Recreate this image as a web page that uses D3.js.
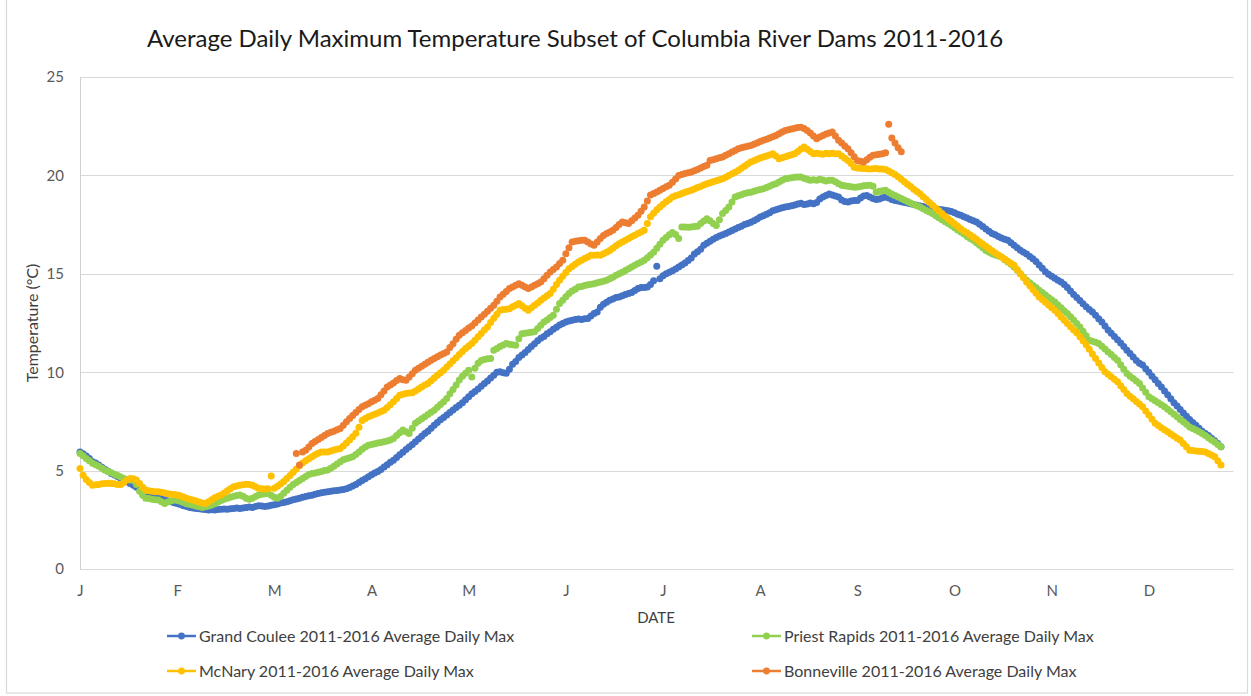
<!DOCTYPE html>
<html>
<head>
<meta charset="utf-8">
<script src="https://cdn.jsdelivr.net/npm/d3@7"></script>
<style>
  html, body { margin: 0; padding: 0; background: #fff; }
  svg { display: block; font-family: Lato, "Open Sans", sans-serif; }
</style>
</head>
<body>
<svg id="chart" width="1251" height="696"></svg>
<script>
// x axis: one category per day, a month letter every 31 categories
var monthLabels = ["J", "F", "M", "A", "M", "J", "J", "A", "S", "O", "N", "D"];
var labelEvery = 31;
var yTicks = [0, 5, 10, 15, 20, 25];

// daily values (deg C), day 0 = first category
var grandCoulee = [
  5.95, 5.85, 5.74, 5.62, 5.45, 5.38, 5.28, 5.17, 5.06, 4.97,
  4.85, 4.78, 4.7, 4.6, 4.5, 4.43, 4.35, 4.25, 4.15, 4.05,
  3.95, 3.9, 3.82, 3.75, 3.68, 3.62, 3.58, 3.52, 3.47, 3.42,
  3.37, 3.33, 3.28, 3.22, 3.17, 3.13, 3.1, 3.08, 3.06, 3.04,
  3.02, 3.0, 3.01, 3.0, 3.02, 3.03, 3.05, 3.03, 3.06, 3.08,
  3.1, 3.07, 3.1, 3.12, 3.15, 3.13, 3.17, 3.22, 3.2, 3.18,
  3.2, 3.24, 3.27, 3.3, 3.35, 3.38, 3.42, 3.47, 3.52, 3.56,
  3.6, 3.64, 3.68, 3.72, 3.75, 3.8, 3.84, 3.87, 3.9, 3.93,
  3.95, 3.97, 3.99, 4.01, 4.04, 4.08, 4.14, 4.22, 4.3, 4.4,
  4.5, 4.59, 4.69, 4.79, 4.88, 4.95, 5.06, 5.18, 5.3, 5.42,
  5.53, 5.66, 5.8, 5.93, 6.07, 6.2, 6.33, 6.47, 6.6, 6.75,
  6.88, 7.0, 7.15, 7.3, 7.45, 7.58, 7.7, 7.82, 7.95, 8.08,
  8.2, 8.32, 8.45, 8.6, 8.75, 8.9, 9.02, 9.15, 9.28, 9.42,
  9.55, 9.7, 9.85, 10.0, 10.02, 9.97, 9.95, 10.15, 10.4, 10.55,
  10.75, 10.88, 11.0, 11.15, 11.3, 11.45, 11.6, 11.72, 11.82, 11.95,
  12.05, 12.18, 12.28, 12.4, 12.48, 12.55, 12.6, 12.64, 12.68, 12.7,
  12.68, 12.72, 12.73, 12.85, 12.98, 13.06, 13.3, 13.45, 13.55, 13.65,
  13.72, 13.8, 13.82, 13.88, 13.95, 14.0, 14.05, 14.15, 14.25, 14.3,
  14.3, 14.33, 14.45, 14.65, 15.38, 14.75, 14.9, 15.0, 15.08, 15.15,
  15.25, 15.35, 15.45, 15.55, 15.68, 15.8, 16.0, 16.12, 16.25, 16.45,
  16.55, 16.65, 16.75, 16.85, 16.92, 16.98, 17.05, 17.12, 17.2, 17.28,
  17.35, 17.42, 17.5, 17.55, 17.62, 17.7, 17.78, 17.88, 17.95, 18.02,
  18.1, 18.2, 18.25, 18.3, 18.35, 18.4, 18.42, 18.46, 18.5, 18.55,
  18.58, 18.52, 18.55, 18.6, 18.56, 18.62, 18.8, 18.9, 18.98, 19.05,
  19.0, 18.95, 18.9, 18.75, 18.68, 18.65, 18.7, 18.72, 18.73, 18.85,
  18.95, 18.98, 18.9, 18.82, 18.78, 18.8, 18.86, 18.9, 18.85, 18.78,
  18.72, 18.7, 18.66, 18.62, 18.6, 18.56, 18.52, 18.48, 18.45, 18.42,
  18.38, 18.35, 18.32, 18.3, 18.27, 18.25, 18.23, 18.2, 18.16, 18.1,
  18.03, 17.97, 17.9, 17.83, 17.76, 17.69, 17.63, 17.52, 17.4, 17.28,
  17.16, 17.05, 16.98, 16.9, 16.82, 16.75, 16.7, 16.58, 16.45, 16.32,
  16.2, 16.1, 16.0, 15.88, 15.77, 15.62, 15.45, 15.28, 15.1, 14.98,
  14.88, 14.78, 14.67, 14.58, 14.45, 14.3, 14.12, 13.95, 13.8, 13.64,
  13.48, 13.32, 13.18, 13.06, 12.9, 12.72, 12.55, 12.35, 12.15, 11.98,
  11.82, 11.65, 11.48, 11.3, 11.12, 10.95, 10.77, 10.6, 10.45, 10.36,
  10.18, 10.0, 9.8, 9.62, 9.43, 9.25, 9.05, 8.85, 8.65, 8.45,
  8.28, 8.1, 7.93, 7.76, 7.6, 7.45, 7.3, 7.15, 7.0, 6.88,
  6.78, 6.65, 6.52, 6.38, 6.21
];

var priestRapids = [
  5.87, 5.75, 5.62, 5.5, 5.37, 5.3, 5.22, 5.12, 5.02, 4.95,
  4.89, 4.82, 4.75, 4.68, 4.6, 4.55, 4.52, 4.5, 4.3, 3.95,
  3.75, 3.6, 3.58, 3.55, 3.52, 3.5, 3.42, 3.33, 3.4, 3.45,
  3.5, 3.48, 3.44, 3.38, 3.32, 3.28, 3.25, 3.2, 3.16, 3.13,
  3.16, 3.2, 3.25, 3.32, 3.4, 3.48, 3.54, 3.59, 3.64, 3.7,
  3.74, 3.76, 3.7, 3.6, 3.54, 3.6, 3.68, 3.76, 3.8, 3.82,
  3.84, 3.75, 3.65, 3.59, 3.7, 3.85, 4.0, 4.15, 4.3, 4.4,
  4.5, 4.6, 4.7, 4.8, 4.85, 4.88, 4.92, 4.96, 5.0, 5.03,
  5.12, 5.22, 5.33, 5.45, 5.55, 5.6, 5.65, 5.7, 5.82, 5.95,
  6.08, 6.2, 6.29, 6.32, 6.36, 6.4, 6.43, 6.46, 6.5, 6.56,
  6.63, 6.78, 6.92, 7.06, 6.98, 6.89, 7.15, 7.4, 7.52, 7.63,
  7.74, 7.85, 7.96, 8.07, 8.22, 8.36, 8.5, 8.66, 8.9, 9.12,
  9.35, 9.6, 9.8, 9.95, 10.1, 9.76, 10.2, 10.45, 10.6, 10.65,
  10.68, 10.7, 11.12, 11.2, 11.3, 11.38, 11.46, 11.42, 11.4, 11.37,
  11.7, 11.96, 11.98, 12.0, 12.03, 12.05, 12.22, 12.38, 12.55, 12.65,
  12.78, 12.89, 13.2, 13.49, 13.66, 13.83, 14.0, 14.12, 14.22, 14.33,
  14.36, 14.4, 14.44, 14.47, 14.5, 14.54, 14.58, 14.62, 14.67, 14.75,
  14.83, 14.92, 15.0, 15.08, 15.17, 15.26, 15.35, 15.43, 15.52, 15.6,
  15.69, 15.82, 15.96, 16.1, 16.3, 16.5, 16.7, 16.85, 16.98, 17.1,
  17.0, 16.79, 17.38, 17.38, 17.36, 17.38, 17.4, 17.42, 17.55, 17.68,
  17.8, 17.7, 17.55, 17.46, 17.75, 18.06, 18.22, 18.39, 18.65, 18.9,
  18.96, 19.02, 19.08, 19.12, 19.15, 19.2, 19.24, 19.28, 19.32, 19.38,
  19.45, 19.52, 19.58, 19.66, 19.75, 19.83, 19.86, 19.88, 19.9, 19.92,
  19.92, 19.85, 19.8, 19.75, 19.78, 19.75, 19.8, 19.76, 19.72, 19.75,
  19.75, 19.68, 19.58, 19.5, 19.48, 19.45, 19.42, 19.4, 19.41, 19.44,
  19.47, 19.49, 19.5, 19.45, 19.15, 19.2, 19.22, 19.24, 19.15, 19.05,
  18.98, 18.9, 18.82, 18.75, 18.68, 18.6, 18.52, 18.46, 18.39, 18.3,
  18.22, 18.14, 18.06, 17.95, 17.85, 17.75, 17.65, 17.55, 17.45, 17.34,
  17.22, 17.12, 17.02, 16.9, 16.8, 16.7, 16.58, 16.45, 16.32, 16.19,
  16.1, 16.02, 15.95, 15.9, 15.85, 15.72, 15.6, 15.48, 15.35, 15.18,
  15.0, 14.84, 14.67, 14.55, 14.42, 14.3, 14.16, 14.05, 13.92, 13.8,
  13.68, 13.57, 13.42, 13.28, 13.12, 12.98, 12.82, 12.65, 12.48, 12.3,
  12.08, 11.85, 11.62, 11.57, 11.52, 11.46, 11.32, 11.18, 11.03, 10.9,
  10.75, 10.61, 10.38, 10.15, 9.93, 9.8, 9.68, 9.55, 9.43, 9.2,
  8.98, 8.75, 8.65, 8.55, 8.45, 8.35, 8.24, 8.12, 7.99, 7.86,
  7.73, 7.6, 7.48, 7.35, 7.22, 7.14, 7.06, 6.98, 6.89, 6.78,
  6.67, 6.56, 6.45, 6.33, 6.21
];

var mcNary = [
  5.11, 4.77, 4.55, 4.4, 4.26, 4.28, 4.3, 4.33, 4.35, 4.36,
  4.35, 4.33, 4.3, 4.3, 4.4, 4.52, 4.6, 4.58, 4.52, 4.35,
  4.15, 4.01, 3.98, 3.95, 3.93, 3.92, 3.9, 3.86, 3.83, 3.8,
  3.78, 3.76, 3.72, 3.66, 3.6, 3.55, 3.5, 3.45, 3.4, 3.36,
  3.33, 3.42, 3.52, 3.62, 3.7, 3.76, 3.86, 3.98, 4.08, 4.18,
  4.22, 4.26, 4.28, 4.31, 4.3, 4.25, 4.18, 4.1, 4.08, 4.06,
  4.08, 4.72, 4.1, 4.2, 4.32, 4.45, 4.6, 4.75, 4.92, 5.08,
  5.25, 5.38, 5.5, 5.6, 5.7, 5.8, 5.88, 5.95, 5.95, 5.95,
  6.0, 6.05, 6.08, 6.12, 6.25, 6.4, 6.55, 6.72, 6.9, 7.2,
  7.55, 7.65, 7.73, 7.8, 7.86, 7.93, 8.0, 8.07, 8.2, 8.35,
  8.5, 8.66, 8.83, 8.88, 8.92, 8.94, 8.95, 9.05, 9.15, 9.25,
  9.35, 9.43, 9.56, 9.7, 9.84, 9.97, 10.1, 10.26, 10.42, 10.58,
  10.74, 10.9, 11.05, 11.2, 11.33, 11.46, 11.62, 11.8, 11.97, 12.14,
  12.3, 12.52, 12.74, 12.95, 13.15, 13.18, 13.2, 13.23, 13.32, 13.4,
  13.49, 13.38, 13.25, 13.15, 13.28, 13.4, 13.52, 13.65, 13.77, 13.89,
  14.0, 14.22, 14.45, 14.67, 14.88, 15.07, 15.26, 15.37, 15.48, 15.6,
  15.69, 15.78, 15.86, 15.94, 15.94, 15.95, 15.94, 16.02, 16.1, 16.19,
  16.3, 16.42, 16.53, 16.62, 16.7, 16.79, 16.88, 16.96, 17.05, 17.13,
  17.21, 17.55, 17.9, 18.08, 18.25, 18.4, 18.53, 18.66, 18.78, 18.9,
  18.96, 19.02, 19.08, 19.14, 19.2, 19.24, 19.31, 19.38, 19.44, 19.51,
  19.58, 19.63, 19.68, 19.73, 19.78, 19.83, 19.91, 20.0, 20.08, 20.16,
  20.25, 20.36, 20.47, 20.58, 20.68, 20.75, 20.82, 20.88, 20.93, 20.98,
  21.04, 21.1, 20.98, 20.85, 20.9, 20.95, 21.0, 21.05, 21.1, 21.22,
  21.34, 21.44, 21.33, 21.22, 21.1, 21.12, 21.1, 21.08, 21.12, 21.1,
  21.12, 21.1, 21.1, 20.98, 20.87, 20.76, 20.6, 20.42, 20.38, 20.36,
  20.35, 20.34, 20.33, 20.34, 20.35, 20.33, 20.32, 20.3, 20.22, 20.14,
  20.05, 19.93, 19.8, 19.68, 19.55, 19.43, 19.3, 19.18, 19.07, 18.92,
  18.77, 18.62, 18.48, 18.34, 18.2, 18.07, 17.93, 17.8, 17.67, 17.54,
  17.42, 17.29, 17.18, 17.08, 16.97, 16.87, 16.75, 16.63, 16.52, 16.4,
  16.28, 16.17, 16.06, 15.95, 15.85, 15.75, 15.64, 15.54, 15.43, 15.22,
  15.0, 14.8, 14.58, 14.39, 14.2, 14.01, 13.82, 13.69, 13.55, 13.42,
  13.28, 13.15, 12.98, 12.81, 12.64, 12.47, 12.31, 12.15, 12.0, 11.8,
  11.6, 11.4, 11.17, 10.93, 10.7, 10.47, 10.24, 10.02, 9.9, 9.77,
  9.64, 9.51, 9.31, 9.12, 8.92, 8.78, 8.65, 8.51, 8.38, 8.24,
  8.03, 7.82, 7.61, 7.4, 7.29, 7.18, 7.08, 6.97, 6.86, 6.76,
  6.65, 6.55, 6.38, 6.21, 6.04, 6.02, 6.0, 5.98, 5.97, 5.95,
  5.87, 5.79, 5.7, 5.5, 5.28
];

// Bonneville has no readings before day 69; a jump at day 258
var bonnevilleStart = 69;
var bonneville = [
  5.87, 5.28, 5.95, 6.04, 6.2, 6.38, 6.48, 6.58, 6.68, 6.78, 6.89,
  6.95, 7.0, 7.07, 7.14, 7.3, 7.48, 7.65, 7.8, 7.95, 8.1,
  8.24, 8.32, 8.4, 8.5, 8.58, 8.66, 8.85, 9.05, 9.25, 9.35,
  9.45, 9.58, 9.68, 9.62, 9.59, 9.75, 9.92, 10.1, 10.2, 10.3,
  10.4, 10.5, 10.61, 10.7, 10.78, 10.87, 10.95, 11.03, 11.25, 11.45,
  11.68, 11.88, 12.0, 12.12, 12.24, 12.35, 12.5, 12.65, 12.81, 12.95,
  13.1, 13.25, 13.4, 13.6, 13.82, 13.96, 14.1, 14.25, 14.33, 14.42,
  14.5, 14.42, 14.33, 14.25, 14.33, 14.42, 14.5, 14.58, 14.75, 14.92,
  15.09, 15.22, 15.35, 15.52, 15.69, 16.02, 16.32, 16.62, 16.65, 16.68,
  16.7, 16.7, 16.62, 16.52, 16.45, 16.62, 16.8, 16.95, 17.05, 17.13,
  17.21, 17.35, 17.5, 17.63, 17.6, 17.55, 17.7, 17.84, 17.97, 18.18,
  18.39, 18.7, 19.0, 19.08, 19.16, 19.25, 19.33, 19.42, 19.5, 19.65,
  19.82, 20.0, 20.05, 20.1, 20.14, 20.17, 20.23, 20.3, 20.38, 20.45,
  20.51, 20.76, 20.8, 20.85, 20.9, 20.93, 21.02, 21.1, 21.19, 21.27,
  21.35, 21.4, 21.44, 21.48, 21.52, 21.58, 21.65, 21.72, 21.78, 21.84,
  21.9, 21.97, 22.03, 22.12, 22.2, 22.28, 22.32, 22.36, 22.4, 22.43,
  22.45, 22.38, 22.28, 22.15, 22.0, 21.86, 21.95, 22.03, 22.11, 22.16,
  22.2, 22.0, 21.78, 21.64, 21.5, 21.35, 21.15, 20.95, 20.76, 20.72,
  20.68, 20.8, 20.92, 21.02, 21.05, 21.08, 21.1, 21.15, 22.6, 21.9,
  21.65, 21.4, 21.2
];

var seriesNames = [
  "Grand Coulee 2011-2016 Average Daily Max",
  "Priest Rapids 2011-2016 Average Daily Max",
  "McNary 2011-2016 Average Daily Max",
  "Bonneville 2011-2016 Average Daily Max"
];
var seriesColors = ["#4472C4", "#92D050", "#FFC000", "#ED7D31"];
var seriesData = [grandCoulee, priestRapids, mcNary, bonneville];
var seriesStart = [0, 0, 0, bonnevilleStart];

var svg = d3.select("#chart");

// chart area border
svg.append("rect")
  .attr("x", 6.5).attr("y", -4)
  .attr("width", 1241).attr("height", 697)
  .attr("fill", "none").attr("stroke", "#d9d9d9").attr("stroke-width", 1.2);

var x = d3.scaleLinear().domain([0, 368]).range([80, 1233.5]);
var y = d3.scaleLinear().domain([0, 25]).range([569, 77]);

// gridlines
svg.append("g")
  .selectAll("line")
  .data(yTicks)
  .enter()
  .append("line")
  .attr("x1", x(0)).attr("x2", x(368))
  .attr("y1", function(d) { return Math.round(y(d)) + 0.5; })
  .attr("y2", function(d) { return Math.round(y(d)) + 0.5; })
  .attr("stroke", "#d9d9d9").attr("stroke-width", 1);

// left axis line
svg.append("line")
  .attr("x1", x(0) + 0.5).attr("x2", x(0) + 0.5)
  .attr("y1", y(25)).attr("y2", y(0))
  .attr("stroke", "#d0d0d0");

// y axis labels
var yAxis = d3.axisLeft(y).tickValues(yTicks).tickSize(0).tickPadding(16);
var gy = svg.append("g").attr("transform", "translate(" + x(0) + ",0)").call(yAxis);
gy.select(".domain").remove();
gy.selectAll("text")
  .attr("fill", "#595959")
  .style("font-size", "15px")
  .style("font-family", "Lato, sans-serif");

// x axis labels
var xAxis = d3.axisBottom(x)
  .tickValues(monthLabels.map(function(m, i) { return i * labelEvery; }))
  .tickFormat(function(d, i) { return monthLabels[i]; })
  .tickSize(0).tickPadding(16);
var gx = svg.append("g").attr("transform", "translate(0," + y(0) + ")").call(xAxis);
gx.select(".domain").remove();
gx.selectAll("text")
  .attr("fill", "#595959")
  .style("font-size", "15px")
  .style("font-family", "Lato, sans-serif");

// series, markers only (neighbouring days overlap into a band)
seriesData.forEach(function(values, s) {
  var pts = [];
  for (var i = 0; i < values.length; i++) {
    if (values[i] != null) pts.push({ day: seriesStart[s] + i, v: values[i] });
  }
  svg.append("g")
    .selectAll("circle")
    .data(pts)
    .enter()
    .append("circle")
    .attr("cx", function(d) { return x(d.day); })
    .attr("cy", function(d) { return y(d.v); })
    .attr("r", 3.5)
    .attr("fill", seriesColors[s]);
});

// title
svg.append("text")
  .attr("x", 575).attr("y", 47)
  .attr("text-anchor", "middle")
  .attr("fill", "#1a1a1a")
  .style("font-size", "24px")
  .text("Average Daily Maximum Temperature Subset of Columbia River Dams 2011-2016");

// axis titles
svg.append("text")
  .attr("transform", "translate(38,323) rotate(-90)")
  .attr("text-anchor", "middle")
  .attr("fill", "#404040")
  .style("font-size", "16px")
  .text("Temperature (°C)");

svg.append("text")
  .attr("x", 656).attr("y", 623)
  .attr("text-anchor", "middle")
  .attr("fill", "#404040")
  .style("font-size", "15px")
  .text("DATE");

// legend, 2 x 2
var legendX = [167, 752];
var legendY = [636, 671];
seriesNames.forEach(function(name, s) {
  var g = svg.append("g")
    .attr("transform", "translate(" + legendX[s % 2] + "," + legendY[Math.floor(s / 2)] + ")");
  g.append("line")
    .attr("x1", 0).attr("x2", 29).attr("y1", 0).attr("y2", 0)
    .attr("stroke", seriesColors[s]).attr("stroke-width", 2.5);
  g.append("circle")
    .attr("cx", 14.5).attr("cy", 0).attr("r", 3.4)
    .attr("fill", seriesColors[s]);
  g.append("text")
    .attr("x", 32).attr("y", 5.5)
    .attr("fill", "#404040")
    .style("font-size", "16px")
    .text(name);
});
</script>
</body>
</html>
